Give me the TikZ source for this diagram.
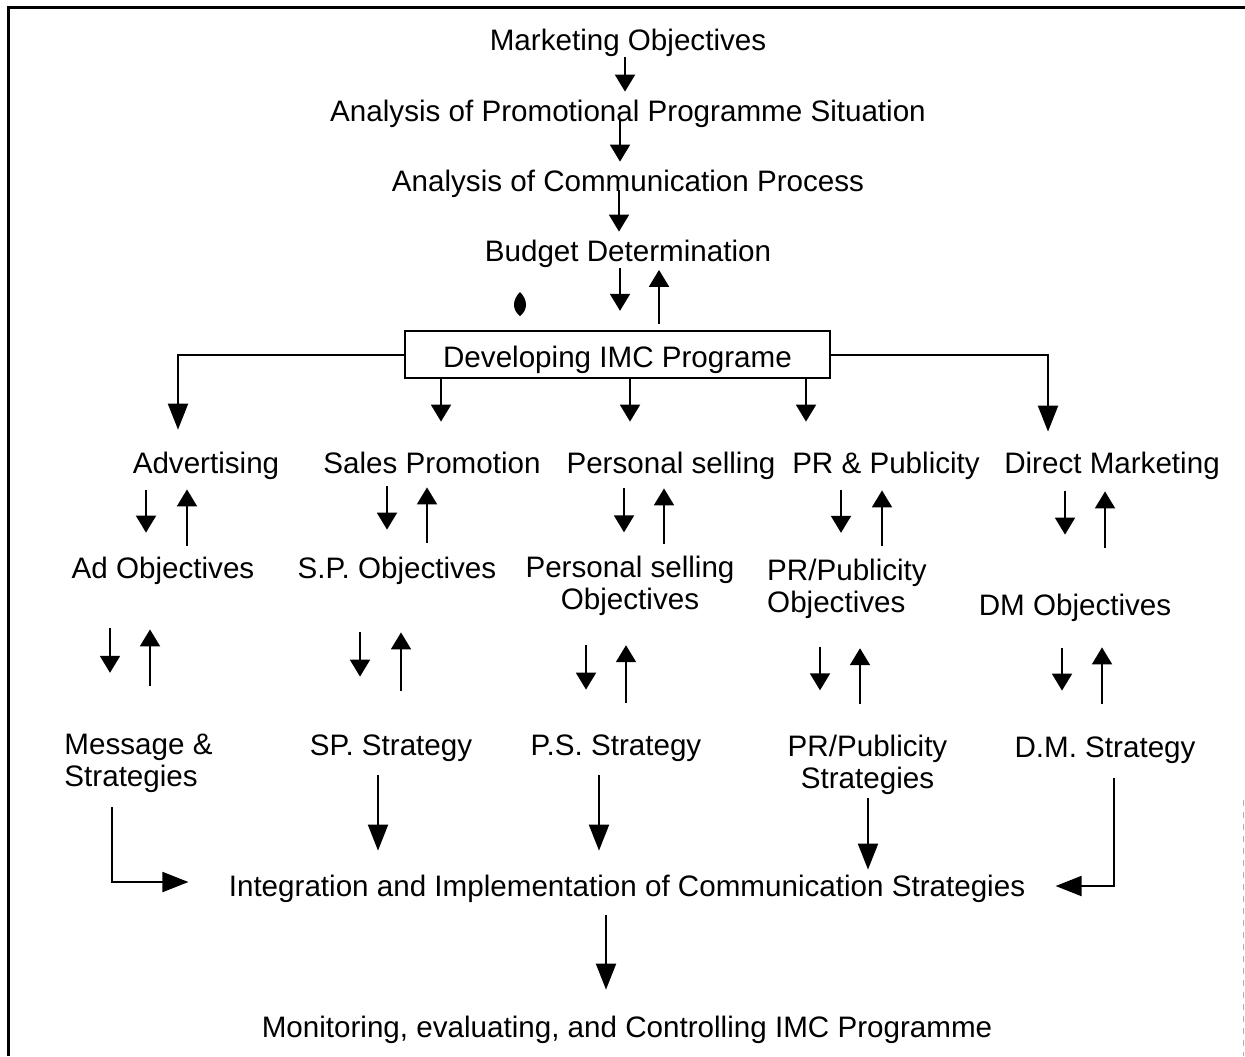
\documentclass[tikz,border=0pt]{standalone}
\usepackage{fontspec}
\setmainfont{Liberation Sans}
\usetikzlibrary{arrows.meta,calc,positioning}

\begin{document}
\begin{tikzpicture}[x=0.5pt,y=-0.5pt]
\tikzset{stage/.style = {inner sep=0pt, text height=10.5pt, text depth=3pt, font=\fontsize{14.8pt}{16pt}\selectfont}}
\tikzset{twoline/.style = {inner sep=0pt, align=center, font=\fontsize{14.8pt}{16pt}\selectfont}}
\tikzset{edge/.style = {-{Triangle[width=10pt,length=8.5pt]}, line width=1pt}}
\tikzset{bigedge/.style = {-{Triangle[width=10pt,length=13pt]}, line width=1pt}}
\useasboundingbox (0,0) rectangle (1245,1056);
% frame
\draw[line width=1.5pt] (8,1056) -- (8,7) -- (1245,7);
\draw[gray!60, dashed, line width=0.4pt] (1243,800) -- (1243,1056);
% top chain
\node[stage] (mo) at (628,43) {Marketing Objectives};
\node[stage] (aps) at (628,114) {Analysis of Promotional Programme Situation};
\node[stage] (acp) at (628,184) {Analysis of Communication Process};
\node[stage] (bd) at (628,254) {Budget Determination};
\node[stage, draw, line width=1.2pt, text height=12.5pt, text depth=0pt,
      minimum width=212.5pt, minimum height=23.5pt] (imc) at (617.5,354.5) {Developing IMC Programe};
\fill (520,292) .. controls (528,300) and (528,310) .. (520,316) .. controls (512,310) and (512,300) .. (520,292);
% tools
\node[stage] (adv) at (206,466) {Advertising};
\node[stage] (sp) at (432,466) {Sales Promotion};
\node[stage] (ps) at (671,466) {Personal selling};
\node[stage] (pr) at (886,466) {PR \& Publicity};
\node[stage] (dm) at (1112,466) {Direct Marketing};
% objectives
\node[stage] (adobj) at (163,571) {Ad Objectives};
\node[stage] (spobj) at (397,571) {S.P. Objectives};
\node[twoline] (psobj) at (630,586) {Personal selling\\ Objectives};
\node[twoline, align=left] (probj) at (847,589) {PR/Publicity\\Objectives};
\node[stage] (dmobj) at (1075,608) {DM Objectives};
% strategies
\node[twoline, align=left] (msg) at (138.5,763.5) {Message \&\\Strategies};
\node[stage] (spstr) at (391,748) {SP. Strategy};
\node[stage] (psstr) at (616,748) {P.S. Strategy};
\node[twoline] (prstr) at (867.5,764.5) {PR/Publicity\\Strategies};
\node[stage] (dmstr) at (1105,750) {D.M. Strategy};
% bottom
\node[stage] (integ) at (627,888.5) {Integration and Implementation of Communication Strategies};
\node[stage] (mon) at (627,1030) {Monitoring, evaluating, and Controlling IMC Programme};

\draw[edge, shorten >=4.25pt] (mo.south -| 625,0) -- (aps.north -| 625,0);
\draw[edge, shorten <=-4pt, shorten >=4.25pt] (aps.south -| 620,0) -- (acp.north -| 620,0);
\draw[edge, shorten <=-4pt, shorten >=4.25pt] (acp.south -| 619,0) -- (bd.north -| 619,0);
\draw[edge, shorten >=9.5pt] (bd.south -| 620,0) -- (imc.north -| 620,0);
\draw[edge, shorten <=3pt, shorten >=1pt] (imc.north -| 659,0) -- (bd.south -| 659,0);

\draw[bigedge, shorten >=11.25pt] (imc.west) -| (adv.north -| 178,0);
\draw[bigedge, shorten >=10.25pt] (imc.east) -| (dm.north -| 1048,0);
\draw[edge, shorten >=15.25pt] (imc.south -| 441,0) -- (sp.north -| 441,0);
\draw[edge, shorten >=15.25pt] (imc.south -| 630,0) -- (ps.north -| 630,0);
\draw[edge, shorten >=15.25pt] (imc.south -| 806,0) -- (pr.north -| 806,0);

\draw[edge, shorten <=5.25pt, shorten >=12.25pt] (adv.south -| 146,0) -- (adobj.north -| 146,0);
\draw[edge, shorten <=5.75pt, shorten >=4.75pt] (adobj.north -| 187,0) -- (adv.south -| 187,0);
\draw[edge, shorten <=3.25pt, shorten >=13.75pt] (sp.south -| 387,0) -- (spobj.north -| 387,0);
\draw[edge, shorten <=7.25pt, shorten >=3.75pt] (spobj.north -| 427,0) -- (sp.south -| 427,0);
\draw[edge, shorten <=4.25pt, shorten >=11.75pt] (ps.south -| 624,0) -- (psobj.north -| 624,0);
\draw[edge, shorten <=5.75pt, shorten >=4.25pt] (psobj.north -| 664,0) -- (ps.south -| 664,0);
\draw[edge, shorten <=5.25pt, shorten >=13pt] (pr.south -| 841,0) -- (probj.north -| 841,0);
\draw[edge, shorten <=6.5pt, shorten >=5.25pt] (probj.north -| 882,0) -- (pr.south -| 882,0);
\draw[edge, shorten <=5.75pt, shorten >=29.75pt] (dm.south -| 1065,0) -- (dmobj.north -| 1065,0);
\draw[edge, shorten <=23.25pt, shorten >=5.75pt] (dmobj.north -| 1105,0) -- (dm.south -| 1105,0);

\draw[edge, shorten <=21.75pt, shorten >=30.5pt] (adobj.south -| 110,0) -- (msg.north -| 110,0);
\draw[edge, shorten <=24pt, shorten >=22.25pt] (msg.north -| 150,0) -- (adobj.south -| 150,0);
\draw[edge, shorten <=23.75pt, shorten >=28.75pt] (spobj.south -| 360,0) -- (spstr.north -| 360,0);
\draw[edge, shorten <=21.75pt, shorten >=23.75pt] (spstr.north -| 401,0) -- (spobj.south -| 401,0);
\draw[edge, shorten <=14.5pt, shorten >=22.25pt] (psobj.south -| 586,0) -- (psstr.north -| 586,0);
\draw[edge, shorten <=15.75pt, shorten >=14.5pt] (psstr.north -| 626,0) -- (psobj.south -| 626,0);
\draw[edge, shorten <=14pt, shorten >=22pt] (probj.south -| 820,0) -- (prstr.north -| 820,0);
\draw[edge, shorten <=15pt, shorten >=14.5pt] (prstr.north -| 860,0) -- (probj.south -| 860,0);
\draw[edge, shorten <=13.25pt, shorten >=22.75pt] (dmobj.south -| 1062,0) -- (dmstr.north -| 1062,0);
\draw[edge, shorten <=16.25pt, shorten >=12.75pt] (dmstr.north -| 1102,0) -- (dmobj.south -| 1102,0);

\draw[bigedge, shorten <=7pt, shorten >=20pt] (msg.south -| 112,0) |- ([yshift=3.25pt]integ.west);
\draw[bigedge, shorten <=6.75pt, shorten >=12pt] (spstr.south -| 378,0) -- (integ.north -| 378,0);
\draw[bigedge, shorten <=6.75pt, shorten >=12pt] (psstr.south -| 599,0) -- (integ.north -| 599,0);
\draw[bigedge, shorten <=1.5pt, shorten >=2.5pt] (prstr.south -| 868,0) -- (integ.north -| 868,0);
\draw[bigedge, shorten <=7.25pt, shorten >=15pt] (dmstr.south -| 1114,0) |- ([yshift=1.25pt]integ.east);
\draw[bigedge, shorten <=6.5pt, shorten >=13.25pt] (integ.south -| 606,0) -- (mon.north -| 606,0);
\end{tikzpicture}
\end{document}
